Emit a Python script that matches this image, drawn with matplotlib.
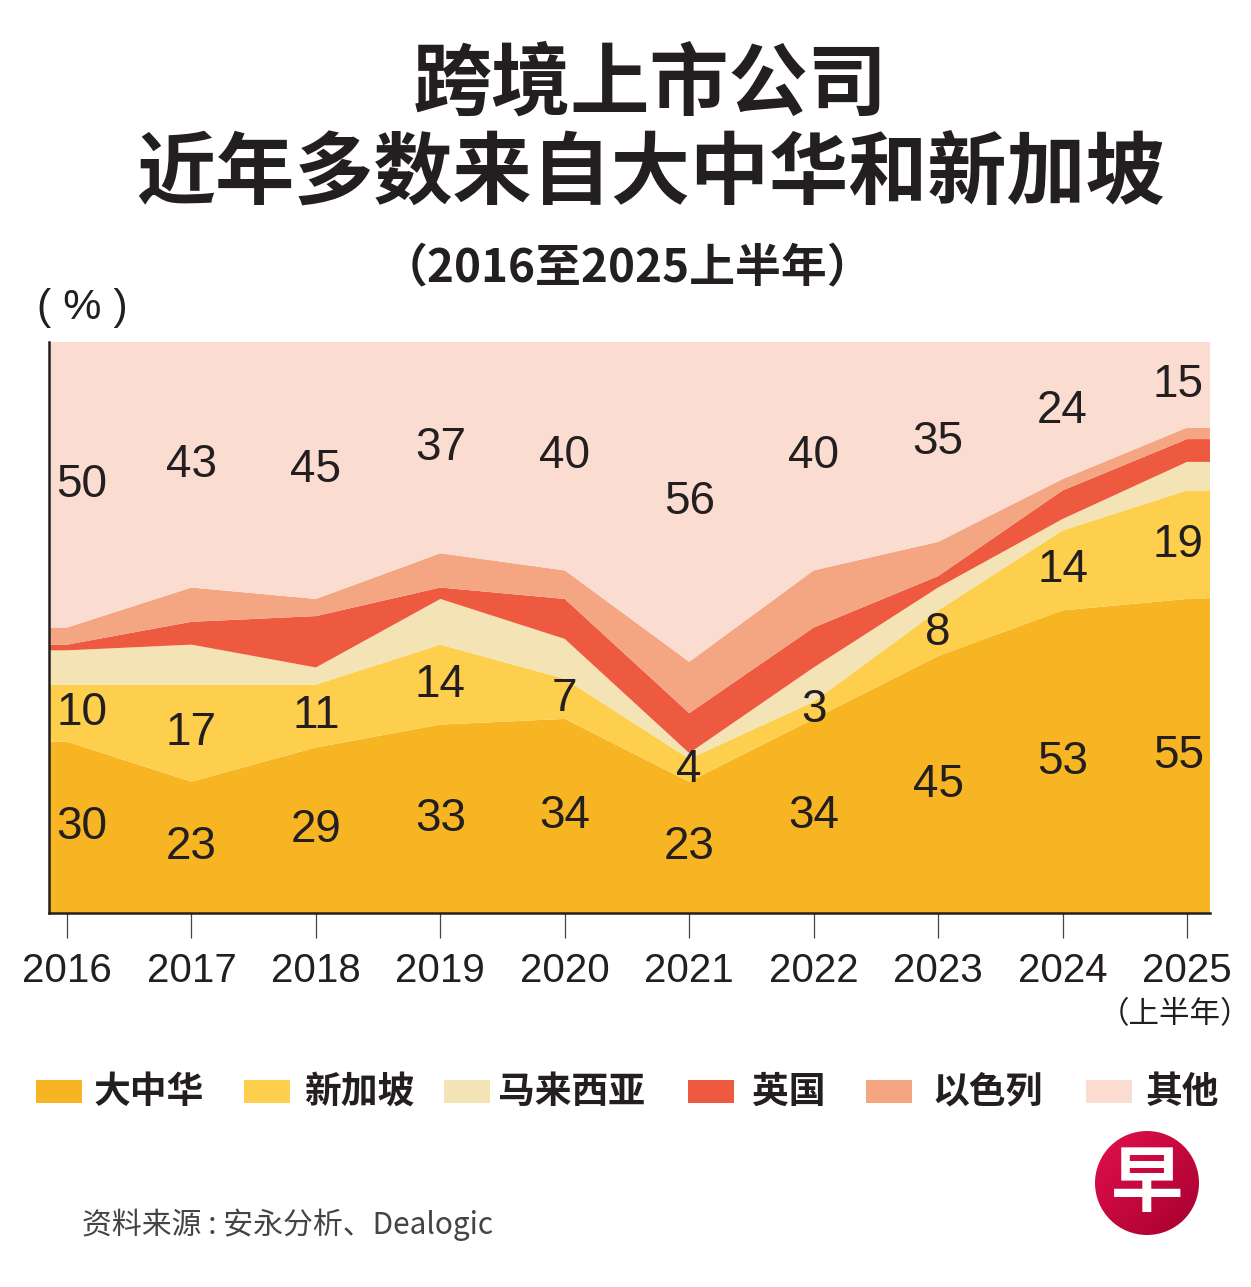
import numpy as np
import matplotlib
matplotlib.use('Agg')
import matplotlib.pyplot as plt
from matplotlib.patches import Rectangle, Circle

plt.rcParams['font.family'] = ['Liberation Sans', 'Noto Sans CJK SC', 'DejaVu Sans']

# data (share of cross-border listings, %)
years = ['2016', '2017', '2018', '2019', '2020', '2021', '2022', '2023', '2024', '2025']
greater_china = [30, 23, 29, 33, 34, 23, 34, 45, 53, 55]
singapore = [10, 17, 11, 14, 7, 4, 3, 8, 14, 19]
malaysia = [6, 7, 3, 8, 7, 1, 6, 4, 2, 5]
uk = [1, 4, 9, 2, 7, 7, 7, 2, 5, 4]
israel = [3, 6, 3, 6, 5, 9, 10, 6, 2, 2]
others = [50, 43, 45, 37, 40, 56, 40, 35, 24, 15]

names = ['大中华', '新加坡', '马来西亚', '英国', '以色列', '其他']
colors = ['#F8B523', '#FDCF4C', '#F3E3B5', '#EE5A40', '#F4A581', '#FADCD0']

W, H = 1251, 1287
fig = plt.figure(figsize=(W / 100, H / 100), dpi=100)
fx = lambda px: px / W
fy = lambda py: 1 - py / H

ax = fig.add_axes([fx(49), fy(913), fx(1210) - fx(49), fy(342) - fy(913)])

x = np.arange(len(years))
x0, x1 = -0.145, 9.185
series = [greater_china, singapore, malaysia, uk, israel, others]
xf = np.r_[x0, x, x1]
yf = [np.r_[s[0], s, s[-1]] for s in series]
ax.stackplot(xf, *yf, colors=colors, linewidth=0)

ax.set_xlim(x0, x1)
ax.set_ylim(0, 100)
ax.set_yticks([])
for s in ['top', 'right']:
    ax.spines[s].set_visible(False)
for s in ['left', 'bottom']:
    ax.spines[s].set_linewidth(1.8)
    ax.spines[s].set_color('#231f20')
ax.set_xticks(x)
ax.set_xticklabels(years, fontsize=29, color='#231f20', family='Liberation Sans')
ax.tick_params(axis='x', length=18, width=0.9, color='#444444', pad=10)
ax.text(8.9, -0.178, '（上半年）', transform=ax.get_xaxis_transform(),
        ha='center', va='center', fontsize=22, color='#231f20', family='Noto Sans CJK SC')

# value labels in the middle of the labelled bands
lx = x.astype(float)
lx[0] += 0.12
lx[-1] -= 0.07
gc = np.array(greater_china)
sg = np.array(singapore)
ot = np.array(others)
for i in range(len(years)):
    for val, yc in [(gc[i], gc[i] / 2), (sg[i], gc[i] + sg[i] / 2), (ot[i], 100 - ot[i] / 2)]:
        ax.text(lx[i], yc, str(val), ha='center', va='center', fontsize=33,
                color='#231f20', family='Liberation Sans')

# titles
fig.text(0.52, fy(85), '跨境上市公司', ha='center', va='center', fontsize=57,
         fontweight='bold', color='#231f20', family='Noto Sans CJK SC')
fig.text(0.52, fy(175), '近年多数来自大中华和新加坡', ha='center', va='center', fontsize=57,
         fontweight='bold', color='#231f20', family='Noto Sans CJK SC')
fig.text(fx(627), fy(268), '（2016至2025上半年）', ha='center', va='center', fontsize=33,
         fontweight='bold', color='#231f20', family='Noto Sans CJK SC')
fig.text(fx(82), fy(308), '( % )', ha='center', va='center', fontsize=31,
         color='#231f20', family='Liberation Sans')

# legend
sq_x = [36, 244, 444, 688, 866, 1086]
tx_x = [94, 304, 498, 752, 932, 1146]
for c, n, sx, tx in zip(colors, names, sq_x, tx_x):
    fig.add_artist(Rectangle((fx(sx), fy(1103)), 46 / W, 23 / H, transform=fig.transFigure,
                             facecolor=c, edgecolor='none'))
    fig.text(fx(tx), fy(1092), n, ha='left', va='center', fontsize=26.5,
             fontweight='bold', color='#231f20', family='Noto Sans CJK SC')

# source
fig.text(fx(82), fy(1225), '资料来源 : 安永分析、Dealogic', ha='left', va='center',
         fontsize=21.5, color='#444444', family='Noto Sans CJK SC')

# logo
lax = fig.add_axes([fx(1095), fy(1235), 104 / W, 104 / H])
lax.set_axis_off()
grad = np.linspace(0, 1, 100)
g = np.add.outer(grad, grad) / 2
im = lax.imshow(g, cmap=matplotlib.colors.LinearSegmentedColormap.from_list('lg', ['#E3104E', '#A5002E']),
                extent=(0, 1, 0, 1), origin='upper')
circ = Circle((0.5, 0.5), 0.5, transform=lax.transAxes)
im.set_clip_path(circ)
lax.text(0.5, 0.48, '早', ha='center', va='center', fontsize=52, fontweight='bold',
         color='white', family='Noto Sans CJK SC', transform=lax.transAxes)

fig.savefig('out.png', dpi=100, facecolor='white')
